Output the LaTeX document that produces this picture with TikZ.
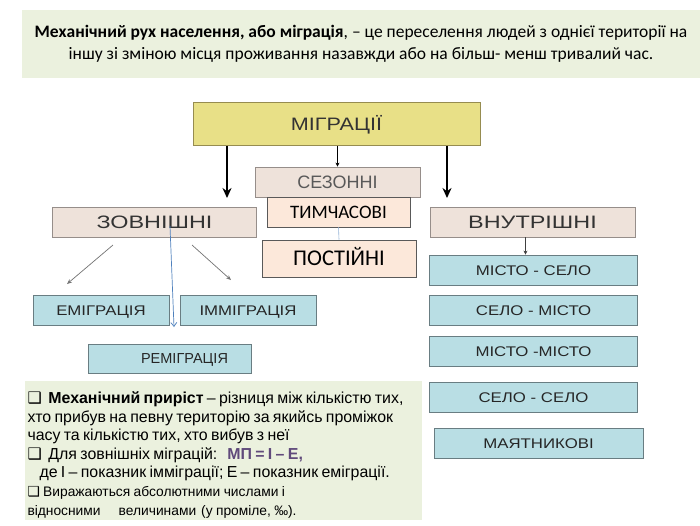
\documentclass[tikz,border=0pt]{standalone}
\usepackage{fontspec}
\setmainfont{Liberation Sans}
\newfontfamily\calfont{Carlito}
\newfontfamily\widefont[FakeStretch=1.2]{Liberation Sans}
\newfontfamily\widerfont[FakeStretch=1.3]{Liberation Sans}
\newfontfamily\symbfont{DejaVu Sans}
\usepackage{tikz}
\usepackage{xcolor}
\usetikzlibrary{arrows.meta, positioning}

\definecolor{bannergreen}{RGB}{235,241,222}
\definecolor{migryellow}{RGB}{232,224,135}
\definecolor{migrborder}{RGB}{150,140,80}
\definecolor{beige}{RGB}{238,226,218}
\definecolor{beigeborder}{RGB}{150,142,138}
\definecolor{peach}{RGB}{252,232,218}
\definecolor{cyanbox}{RGB}{185,222,228}
\definecolor{cyanborder}{RGB}{105,125,130}
\definecolor{formula}{RGB}{96,74,123}
\definecolor{lineblue}{RGB}{79,129,189}

\newcommand{\sqbul}{{\symbfont ❑}}

\begin{document}
\begin{tikzpicture}[x=1pt,y=-1pt,>=Stealth,node distance=10pt,
  banner/.style={fill=bannergreen,draw=none,inner sep=0pt,align=center,minimum width=678pt,minimum height=68pt,font=\calfont\fontsize{17.5}{22}\selectfont},
  mainbox/.style={draw=migrborder,fill=migryellow,line width=0.8pt,inner sep=0pt,minimum width=287pt,minimum height=43pt,text=black!80,text height=13pt,text depth=0pt,font=\widefont\fontsize{18}{18}\selectfont},
  kindbox/.style={draw=beigeborder,fill=beige,line width=0.8pt,inner sep=0pt,minimum height=30pt,text=black!80,text height=13pt,text depth=0pt,font=\widerfont\fontsize{18}{18}\selectfont},
  timebox/.style={draw=black!65,fill=peach,line width=0.8pt,inner sep=0pt,text depth=0pt,font=\calfont},
  flowbox/.style={draw=cyanborder,fill=cyanbox,line width=0.8pt,inner sep=0pt,minimum height=30pt,text=black!85,text height=10pt,text depth=0pt,font=\widefont\fontsize{14}{14}\selectfont},
  panel/.style={fill=bannergreen,draw=none,inner sep=0pt,minimum width=397pt,minimum height=139pt},
  bigarrow/.style={->,line width=1.6pt,>={Stealth[length=10pt,width=9pt]}},
  thinarrow/.style={->,line width=0.6pt,>={Stealth[length=4pt,width=4pt]}},
  greyarrow/.style={->,draw=black!55,line width=0.7pt,>={Stealth[length=5pt,width=4pt]}}]
  \useasboundingbox[fill=white] (0,0) rectangle (700,525);

  % definition on top
  \node[banner] (defn) at (361,44) {%
    \textbf{Механічний рух населення, або міграція}, – це переселення людей з однієї території на\\
    іншу зі зміною місця проживання назавжди або на більш- менш тривалий час.};

  % main tree
  \node[mainbox] (migr) at (336.5,124) {МІГРАЦІЇ};
  \node[kindbox,minimum width=165pt,text=black!65,font=\fontsize{18}{18}\selectfont] (sezon) at (337.5,182) {СЕЗОННІ};
  \node[timebox,minimum width=143pt,minimum height=30pt,text height=12pt,font=\calfont\fontsize{19}{19}\selectfont] (tymch) at (338.5,212) {ТИМЧАСОВІ};
  \node[timebox,minimum width=154pt,minimum height=37pt,text height=14.5pt,font=\calfont\fontsize{22.5}{22.5}\selectfont] (post) at (339,258.5) {ПОСТІЙНІ};
  \node[kindbox,minimum width=204pt] (zovn) at (154.5,222) {ЗОВНІШНІ};
  \node[kindbox,minimum width=205pt] (vnutr) at (532.5,222) {ВНУТРІШНІ};

  % external
  \node[flowbox,minimum width=136pt] (emig) at (101,310) {ЕМІГРАЦІЯ};
  \node[flowbox,minimum width=136pt] (immig) at (248,310) {ІММІГРАЦІЯ};
  \node[flowbox,minimum width=163pt,minimum height=29pt,font=\fontsize{14.5}{14.5}\selectfont] (remig) at (169.5,358.5) {\hspace*{30pt}РЕМІГРАЦІЯ};

  % internal
  \node[flowbox,minimum width=208pt] (ms) at (533.5,270) {МІСТО - СЕЛО};
  \node[flowbox,minimum width=208pt,below=10pt of ms] (sm) {СЕЛО - МІСТО};
  \node[flowbox,minimum width=208pt,below=10pt of sm] (mm) {МІСТО -МІСТО};
  \node[flowbox,minimum width=208pt,below=15pt of mm] (ss) {СЕЛО - СЕЛО};
  \node[flowbox,minimum width=209pt,below=15pt of ss,xshift=5pt] (mayat) {МАЯТНИКОВІ};

  % arrows
  \coordinate (leftend) at (227,198);
  \coordinate (rightend) at (447,198);
  \draw[bigarrow] (migr.south -| leftend) -- (leftend);
  \draw[bigarrow] (migr.south -| rightend) -- (rightend);
  \draw[thinarrow] (migr.south -| sezon.north) -- (sezon.north);
  \draw[draw=lineblue!60,line width=0.6pt] (tymch.south) -- (post.north);
  \draw[thinarrow,draw=black!75] ([xshift=-7pt]vnutr.south) -- ([xshift=-8pt]ms.north);

  \coordinate (emstart) at (113,245);
  \coordinate (emend) at (67,284);
  \coordinate (imstart) at (192,245);
  \coordinate (imend) at (231,280);
  \draw[greyarrow] (emstart) -- (emend);
  \draw[greyarrow] (imstart) -- (imend);
  \coordinate (remstart) at (170,226);
  \coordinate (remend) at (174,327);
  \draw[->,draw=lineblue,line width=0.7pt,>={Straight Barb[length=4pt,width=6pt]}] (remstart) -- (remend);

  % note at the bottom
  \node[panel] (note) at (223,450.5) {};
  \node[anchor=north west,inner sep=0pt,text width=395pt,align=left] (notetext) at ([xshift=3pt,yshift=-11pt]note.north west) {%
    {\fontsize{15.9}{18.5}\selectfont
    \sqbul\ \ \textbf{Механічний приріст} – різниця між кількістю тих,\\
    хто прибув на певну територію за якийсь проміжок\\
    часу та кількістю тих, хто вибув з неї\\
    \sqbul\ \ Для зовнішніх міграцій:\ \ \ \textcolor{formula}{\textbf{МП = І – Е,}}\\
    \hspace*{12pt}де І – показник імміграції; Е – показник еміграції.\par}
    {\fontsize{13.8}{19}\selectfont
    \sqbul\ Виражаються абсолютними числами і\\
    відносними\hspace{18pt}величинами\hspace{5pt}(у проміле, ‰).\par}};
\end{tikzpicture}
\end{document}
